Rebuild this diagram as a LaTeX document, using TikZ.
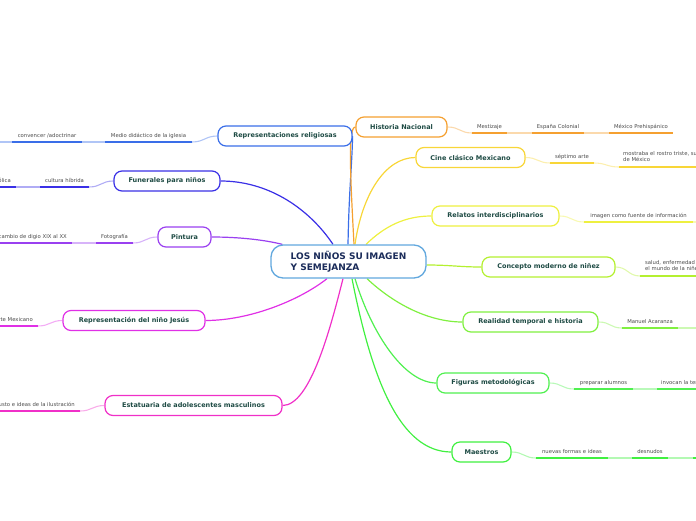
\documentclass[tikz,border=0pt]{standalone}
\usepackage{fontspec}
\setmainfont{DejaVu Sans}
\usetikzlibrary{backgrounds,calc}
\definecolor{cCtr}{HTML}{62A8DE}
\definecolor{ctrtxt}{HTML}{1B2C5A}
\definecolor{nodetxt}{HTML}{1E4B44}
\definecolor{leaftxt}{HTML}{4A4A4A}
\definecolor{cRel}{HTML}{3A6EE8}
\definecolor{cFun}{HTML}{3A30E6}
\definecolor{cPin}{HTML}{9A40F0}
\definecolor{cJes}{HTML}{E030E6}
\definecolor{cEst}{HTML}{F030C8}
\definecolor{cHis}{HTML}{F5A030}
\definecolor{cCin}{HTML}{F8D638}
\definecolor{cRelt}{HTML}{EEF040}
\definecolor{cCon}{HTML}{B4F030}
\definecolor{cRea}{HTML}{80F040}
\definecolor{cFig}{HTML}{50F050}
\definecolor{cMae}{HTML}{40F040}
\tikzset{
  topic/.style={draw=#1, line width=1.2pt, rounded corners=8pt, fill=white,
    minimum height=20pt, inner sep=0pt, text=nodetxt,
    font=\bfseries\fontsize{6.5}{8}\selectfont},
  leaftext/.style={inner sep=0pt, text=leaftxt, font=\fontsize{5.3}{6.8}\selectfont},
  uline/.style={draw=#1, line width=1.8pt},
  link/.style={draw=#1!40!white, line width=1.1pt},
  branch/.style={draw=#1, line width=1.2pt},
}
% leaf centred on its underline: name, colour, x1, x2, y, text
\newcommand\lfC[6]{%
  \draw[uline=#2] (#3,#5) coordinate (#1w) -- (#4,#5) coordinate (#1e);
  \node[leaftext, anchor=base] (#1) at ({(#3+#4)/2},{#5-4.7}) {#6};}
% leaf whose text ends 5 before the underline end
\newcommand\lfR[6]{%
  \draw[uline=#2] (#3,#5) coordinate (#1w) -- (#4,#5) coordinate (#1e);
  \node[leaftext, anchor=base east] (#1) at ({#4-5},{#5-4.7}) {#6};}
% leaf whose text starts 4 after the underline start
\newcommand\lfL[6]{%
  \draw[uline=#2] (#3,#5) coordinate (#1w) -- (#4,#5) coordinate (#1e);
  \node[leaftext, anchor=base west] (#1) at ({#3+4},{#5-4.7}) {#6};}
\begin{document}
\begin{tikzpicture}[x=1pt,y=-1pt]
\useasboundingbox (0,0) rectangle (696,520);

% centre
\node[draw=cCtr, line width=1.3pt, rounded corners=12pt, fill=white,
  minimum width=155pt, minimum height=33pt, inner sep=0pt, align=left,
  text=ctrtxt, font=\bfseries\fontsize{9}{11}\selectfont]
  (ctr) at (348.5,261.5) {LOS NIÑOS SU IMAGEN\\Y SEMEJANZA};

% main topics
\node[topic=cRel, minimum width=134pt] (rel) at (285,136) {Representaciones religiosas};
\node[topic=cFun, minimum width=106pt] (fun) at (167,181) {Funerales para niños};
\node[topic=cPin, minimum width=53pt] (pin) at (184.5,237) {Pintura};
\node[topic=cJes, minimum width=142pt] (jes) at (134,320.5) {Representación del niño Jesús};
\node[topic=cEst, minimum width=177pt] (est) at (193.5,405.5) {Estatuaria de adolescentes masculinos};
\node[topic=cHis, minimum width=91pt] (his) at (401.5,127) {Historia Nacional};
\node[topic=cCin, minimum width=109pt] (cin) at (470.5,157.5) {Cine clásico Mexicano};
\node[topic=cRelt, minimum width=127pt] (relt) at (495.5,216) {Relatos interdisciplinarios};
\node[topic=cCon, minimum width=133pt] (con) at (548.5,267) {Concepto moderno de niñez};
\node[topic=cRea, minimum width=135pt] (rea) at (530.5,322) {Realidad temporal e historia};
\node[topic=cFig, minimum width=112pt] (fig) at (493,383) {Figuras metodológicas};
\node[topic=cMae, minimum width=59pt] (mae) at (481.5,452) {Maestros};

% leaves
\lfC{rel1}{cRel}{105}{192}{142}{Medio didáctico de la iglesia}
\lfC{rel2}{cRel}{12}{82}{142}{convencer /adoctrinar}
\coordinate (rel3e) at (-10,142);
\lfC{fun1}{cFun}{40}{89}{187}{cultura híbrida}
\lfR{fun2}{cFun}{-40}{16}{187}{católica}
\lfC{pin1}{cPin}{96}{133}{243}{Fotografía}
\lfR{pin2}{cPin}{-20}{72}{243}{cambio de digio XIX al XX}
\lfR{jes1}{cJes}{-20}{38}{326}{Arte Mexicano}
\lfR{est1}{cEst}{-20}{80}{411}{gusto e ideas de la ilustración}
\lfC{his1}{cHis}{472}{507}{133}{Mestizaje}
\lfC{his2}{cHis}{532}{584}{133}{España Colonial}
\lfC{his3}{cHis}{609}{673}{133}{México Prehispánico}
\lfC{cin1}{cCin}{550}{594}{163}{séptimo arte}
\draw[uline=cCin] (619,167) coordinate (cin2w) -- (720,167);
\node[leaftext, align=left, anchor=north west] (cin2) at (623,150.8)
  {mostraba el rostro triste, sufrido\\de México};
\lfC{relt1}{cRelt}{584}{693}{222}{imagen como fuente de información}
\coordinate (relt2w) at (720,222);
\draw[uline=cCon] (640,276) coordinate (con1w) -- (720,276);
\node[leaftext, align=left, anchor=north west] (con1) at (645,259.8)
  {salud, enfermedad\\el mundo de la niñez};
\lfC{rea1}{cRea}{622}{678}{328}{Manuel Acaranza}
\coordinate (rea2w) at (720,328);
\lfC{fig1}{cFig}{574}{633}{389}{preparar alumnos}
\lfL{fig2}{cFig}{657}{740}{389}{invocan la temática}
\lfC{mae1}{cMae}{536}{608}{458}{nuevas formas e ideas}
\lfC{mae2}{cMae}{632}{668}{458}{desnudos}
\draw[uline=cMae] (693,458) coordinate (mae3w) -- (720,458);

\begin{scope}[on background layer]
% branches from the centre
\draw[branch=cRel] ($(ctr.north)+(-0.5,0)$) .. controls (349,190) and (352,165) .. (rel.east);
\draw[branch=cHis] ($(ctr.north)+(5.5,0)$) .. controls (350,170) and (348,127) .. (his.west);
\draw[branch=cCin] ($(ctr.north)+(6.5,0)$) .. controls (362,195) and (385,157.5) .. (cin.west);
\draw[branch=cRelt] ($(ctr.north)+(17.5,0)$) .. controls (385,226) and (405,216) .. (relt.west);
\draw[branch=cCon] ($(ctr.east)+(0,3.5)$) .. controls (450,265) and (460,267) .. (con.west);
\draw[branch=cRea] ($(ctr.south)+(18.5,0)$) .. controls (395,305) and (430,322) .. (rea.west);
\draw[branch=cFig] ($(ctr.south)+(6.5,0)$) .. controls (372,335) and (405,383) .. (fig.west);
\draw[branch=cMae] ($(ctr.south)+(3.5,0)$) .. controls (372,380) and (400,452) .. (mae.west);
\draw[branch=cFun] ($(ctr.north)+(-15.5,0)$) .. controls (310,210) and (270,181) .. (fun.east);
\draw[branch=cPin] ($(ctr.north west)+(12,0)$) .. controls (265,240) and (240,237) .. (pin.east);
\draw[branch=cJes] ($(ctr.south)+(-21.5,0)$) .. controls (300,300) and (250,320.5) .. (jes.east);
\draw[branch=cEst] ($(ctr.south)+(-5.5,0)$) .. controls (330,330) and (310,405.5) .. (est.east);
% links to leaves
\draw[link=cRel] (rel.west) .. controls +(-12,0) and +(12,0) .. (rel1e);
\draw[link=cRel] (rel1w) -- (rel2e);
\draw[link=cRel] (rel2w) -- (rel3e);
\draw[link=cFun] (fun.west) .. controls +(-12,0) and +(12,0) .. (fun1e);
\draw[link=cFun] (fun1w) -- (fun2e);
\draw[link=cPin] (pin.west) .. controls +(-12,0) and +(12,0) .. (pin1e);
\draw[link=cPin] (pin1w) -- (pin2e);
\draw[link=cJes] (jes.west) .. controls +(-12,0) and +(12,0) .. (jes1e);
\draw[link=cEst] (est.west) .. controls +(-12,0) and +(12,0) .. (est1e);
\draw[link=cHis] (his.east) .. controls +(12,0) and +(-12,0) .. (his1w);
\draw[link=cHis] (his1e) -- (his2w);
\draw[link=cHis] (his2e) -- (his3w);
\draw[link=cCin] (cin.east) .. controls +(12,0) and +(-12,0) .. (cin1w);
\draw[link=cCin] (cin1e) .. controls +(12,0) and +(-12,0) .. (cin2w);
\draw[link=cRelt] (relt.east) .. controls +(12,0) and +(-12,0) .. (relt1w);
\draw[link=cRelt] (relt1e) -- (relt2w);
\draw[link=cCon] (con.east) .. controls +(12,0) and +(-12,0) .. (con1w);
\draw[link=cRea] (rea.east) .. controls +(12,0) and +(-12,0) .. (rea1w);
\draw[link=cRea] (rea1e) -- (rea2w);
\draw[link=cFig] (fig.east) .. controls +(12,0) and +(-12,0) .. (fig1w);
\draw[link=cFig] (fig1e) -- (fig2w);
\draw[link=cMae] (mae.east) .. controls +(12,0) and +(-12,0) .. (mae1w);
\draw[link=cMae] (mae1e) -- (mae2w);
\draw[link=cMae] (mae2e) -- (mae3w);
\end{scope}
\end{tikzpicture}
\end{document}
